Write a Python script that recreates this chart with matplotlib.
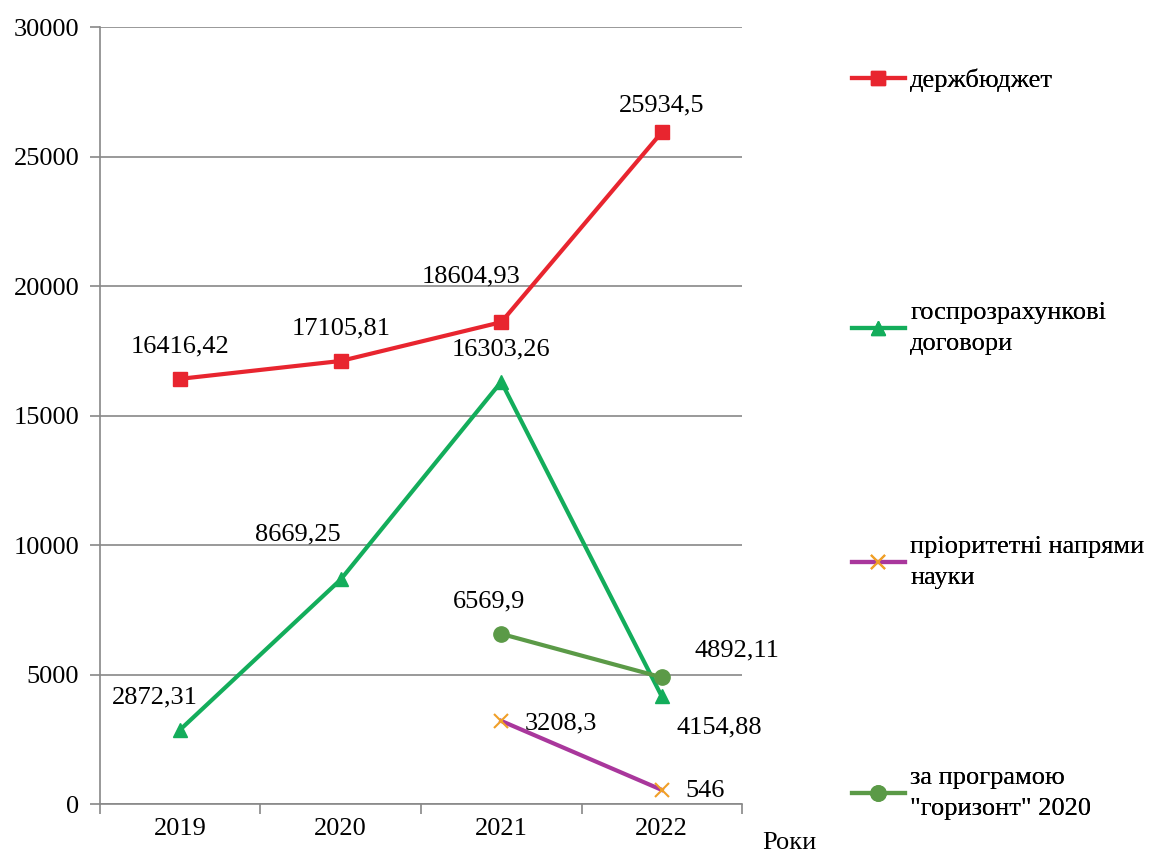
import matplotlib
matplotlib.use("Agg")
import matplotlib.pyplot as plt
from matplotlib.lines import Line2D
from matplotlib.font_manager import FontProperties

FAM = ['Liberation Serif', 'DejaVu Serif']
plt.rcParams['font.family'] = FAM

years = ['2019', '2020', '2021', '2022']
budget = [16416.42, 17105.81, 18604.93, 25934.5]
contracts = [2872.31, 8669.25, 16303.26, 4154.88]
priority = [None, None, 3208.3, 546]
horizon = [None, None, 6569.9, 4892.11]

budget_labels = ['16416,42', '17105,81', '18604,93', '25934,5']
contracts_labels = ['2872,31', '8669,25', '16303,26', '4154,88']
priority_labels = ['3208,3', '546']
horizon_labels = ['6569,9', '4892,11']

series_names = ['держбюджет', 'госпрозрахункові\nдоговори',
                'пріоритетні напрями\nнауки', 'за програмою\n"горизонт" 2020']

fs = 19
fp = FontProperties(family=FAM, size=fs)

fig = plt.figure(figsize=(11.49, 8.52), dpi=100)
ax = fig.add_axes([0.087, 0.0563, 0.5588, 0.912])

x = list(range(len(years)))
red = '#E8252F'
green = '#13AD5B'
purple = '#A9379C'
orange = '#F0A028'
olive = '#5B9A47'

ax.plot(x, budget, color=red, lw=3, marker='s', ms=10, zorder=3)
ax.plot(x, contracts, color=green, lw=3, marker='^', ms=10, zorder=3)
ax.plot(x[2:], priority[2:], color=purple, lw=3, marker='x', ms=10,
        mec=orange, mew=1.5, zorder=4)
ax.plot(x[2:], horizon[2:], color=olive, lw=3, marker='o', ms=11, zorder=4)

ax.set_xlim(-0.5, 3.5)
ax.set_ylim(0, 30000)
ax.set_yticks(range(0, 30001, 5000))
ax.set_xticks(x)
ax.set_xticklabels(years, fontproperties=fp)
ax.set_yticklabels([str(v) for v in range(0, 30001, 5000)], fontproperties=fp)
ax.set_xticks([-0.5, 0.5, 1.5, 2.5, 3.5], minor=True)
ax.tick_params(axis='x', which='major', length=0, pad=10)
ax.tick_params(axis='x', which='minor', length=7, color='#888888', width=1.2)
ax.tick_params(axis='y', length=7, color='#888888', width=1.2, pad=8)
ax.grid(axis='y', color='#888888', lw=1.2)
ax.set_axisbelow(True)
for s in ['top', 'right']:
    ax.spines[s].set_visible(False)
for s in ['left', 'bottom']:
    ax.spines[s].set_color('#888888')
    ax.spines[s].set_linewidth(1.2)

def lab(xx, yy, s):
    ax.text(xx, yy, s, ha='center', va='center', fontproperties=fp)

lab(0, budget[0] + 1250, budget_labels[0])
lab(1, budget[1] + 1250, budget_labels[1])
lab(1.81, budget[2] + 1750, budget_labels[2])
lab(3, budget[3] + 1050, budget_labels[3])

lab(-0.16, contracts[0] + 1250, contracts_labels[0])
lab(0.73, contracts[1] + 1750, contracts_labels[1])
lab(2, contracts[2] + 1250, contracts_labels[2])
lab(3.36, contracts[3] - 1200, contracts_labels[3])

lab(2.37, priority[2] - 100, priority_labels[0])
lab(3.27, priority[3] - 50, priority_labels[1])

ax.annotate(horizon_labels[0], xy=(2, horizon[2]), xytext=(1.925, horizon[2] + 1250),
            ha='center', va='center', fontproperties=fp,
            arrowprops=dict(arrowstyle='-', color='black', lw=0.8,
                            shrinkA=10, shrinkB=3))
lab(3.47, horizon[3] + 1050, horizon_labels[1])

fig.text(789 / 1149, 1 - 843 / 852, 'Роки', ha='center', va='center', fontproperties=fp)

handles = [
    Line2D([], [], color=red, lw=3, marker='s', ms=10),
    Line2D([], [], color=green, lw=3, marker='^', ms=10),
    Line2D([], [], color=purple, lw=3, marker='x', ms=10, mec=orange, mew=1.5),
    Line2D([], [], color=olive, lw=3, marker='o', ms=11),
]
ys = [80, 313, 547, 778]
for h, y, name in zip(handles, ys, series_names):
    leg = fig.legend([h], [name], loc='upper left',
                     bbox_to_anchor=(852 / 1149, 1 - (y - 11) / 852),
                     frameon=False, prop=fp, handlelength=2.0,
                     handletextpad=0.2, borderaxespad=0, borderpad=0)
    for t in leg.get_texts():
        t.set_linespacing(1.55)
    fig.add_artist(leg)

fig.savefig('out.png', dpi=100)
